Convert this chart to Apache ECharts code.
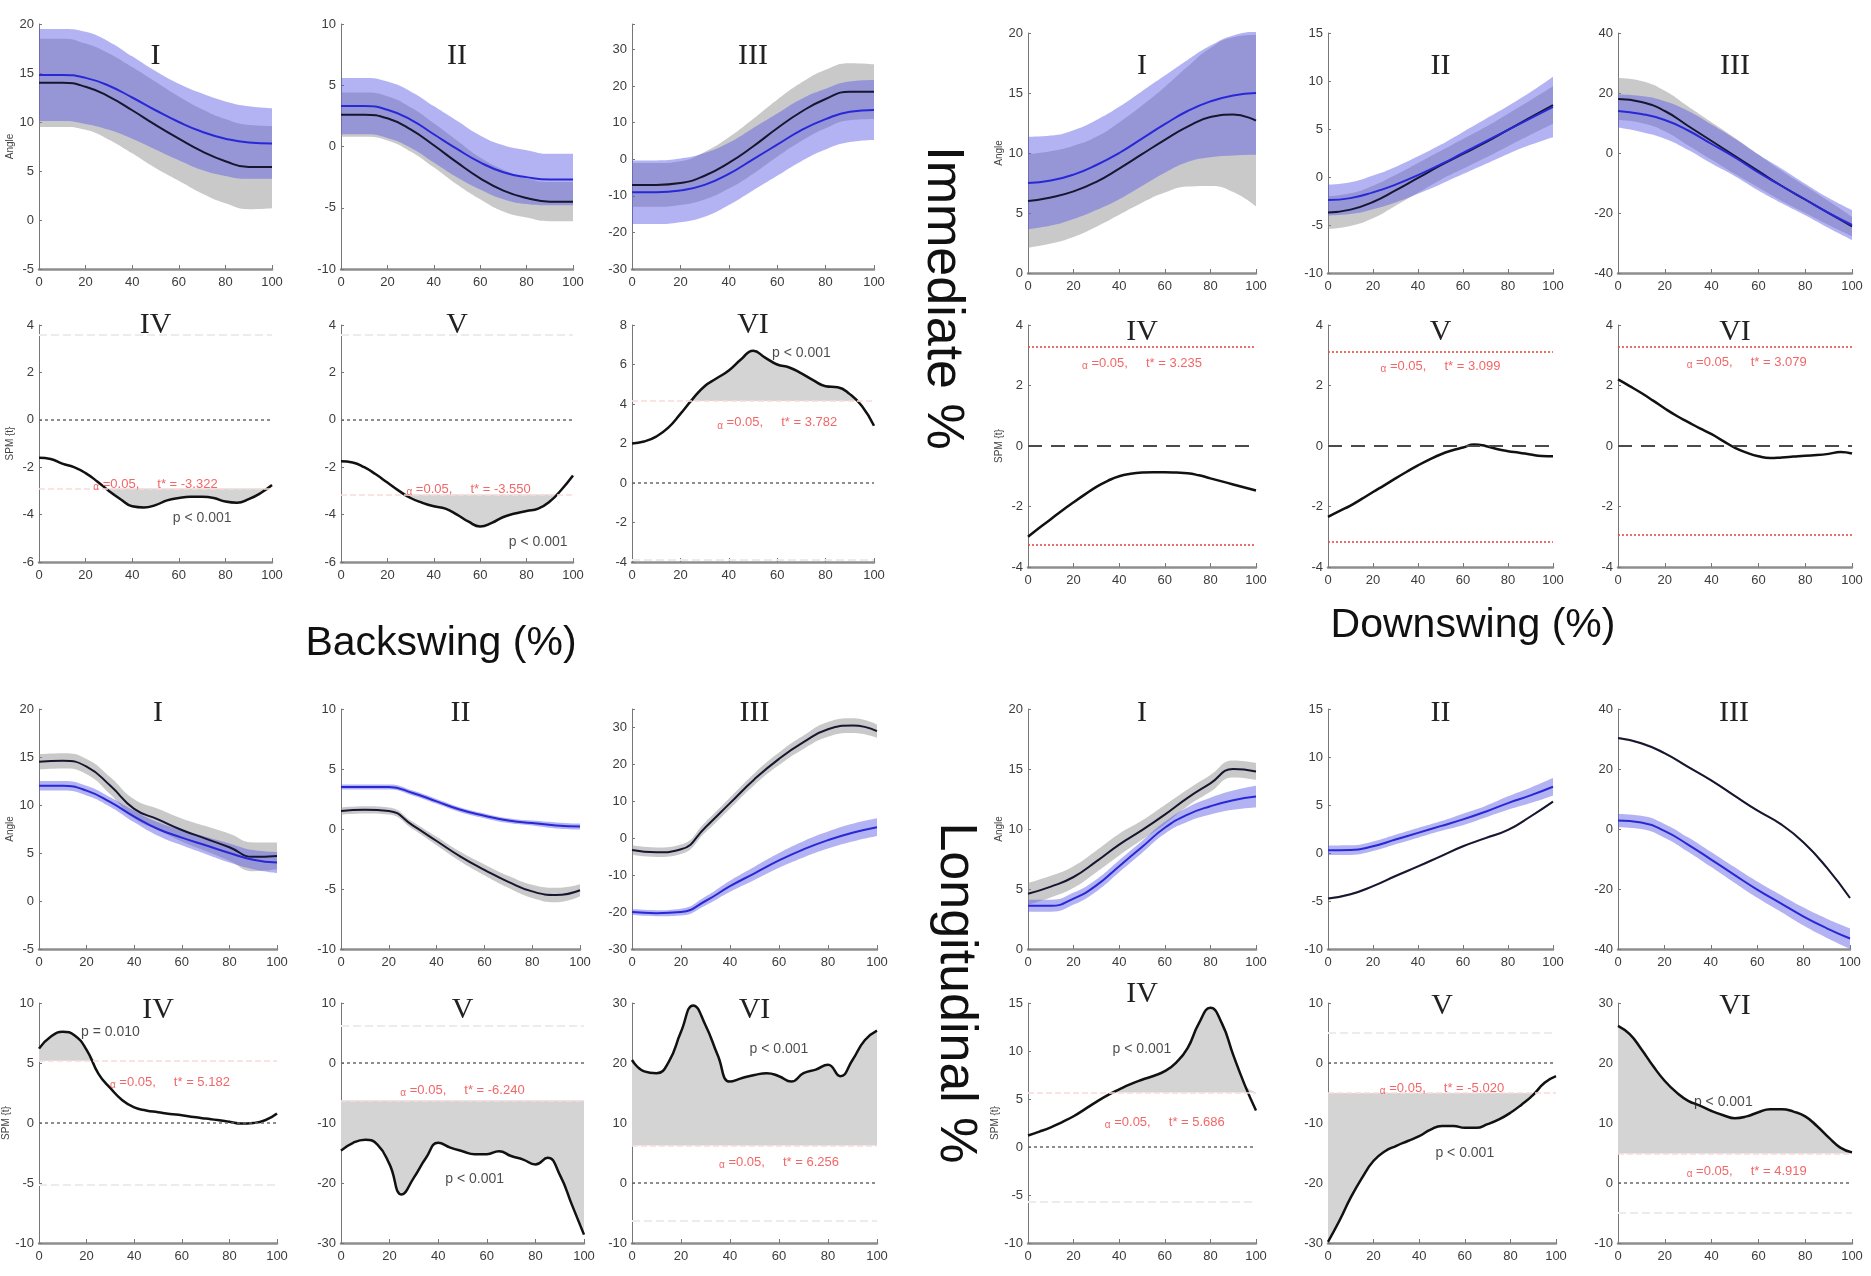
<!DOCTYPE html>
<html>
<head>
<meta charset="utf-8">
<script src="https://cdn.jsdelivr.net/npm/echarts@6.0.0/dist/echarts.min.js"></script>
<style>
  html, body { margin: 0; background: #fff; }
  #chart { width: 1871px; height: 1276px; }
</style>
</head>
<body>
<div id="chart"></div>
<script>
// ---------- sample positions (% of swing) ----------
const xsA = [0, 10, 20, 30, 40, 50, 60, 70, 80, 90, 100];
const xsS = [0, 5, 10, 15, 20, 25, 30, 35, 40, 45, 50, 55, 60, 65, 70, 75, 80, 85, 90, 95, 100];

// ---------- Immediate, backswing (angles: mean / sd) ----------
const imBackI_black   = [14, 14, 13.6, 12.6, 11.2, 9.7, 8.3, 7, 6, 5.4, 5.4];
const imBackI_blackSd = [4.5, 4.5, 4.4, 4.4, 4.4, 4.4, 4.3, 4.3, 4.3, 4.3, 4.2];
const imBackI_blue    = [14.8, 14.8, 14.5, 13.7, 12.5, 11.2, 10, 9, 8.3, 7.9, 7.8];
const imBackI_blueSd  = [4.7, 4.7, 4.7, 4.5, 4.2, 4.0, 3.9, 3.9, 3.8, 3.7, 3.6];

const imBackII_black   = [2.6, 2.6, 2.3, 1.4, 0.1, -1.3, -2.6, -3.6, -4.2, -4.5, -4.5];
const imBackII_blackSd = [1.8, 1.8, 1.8, 1.8, 1.8, 1.8, 1.7, 1.7, 1.6, 1.6, 1.6];
const imBackII_blue    = [3.3, 3.3, 3.0, 2.2, 1.0, -0.2, -1.3, -2.1, -2.5, -2.7, -2.7];
const imBackII_blueSd  = [2.3, 2.3, 2.3, 2.3, 2.3, 2.3, 2.2, 2.2, 2.2, 2.1, 2.1];

const imBackIII_black   = [-7, -7, -6.5, -4.5, -1, 3.5, 8.5, 13, 16.5, 18.5, 18.5];
const imBackIII_blackSd = [6, 6, 6, 6.5, 7, 7.5, 7.8, 8, 8, 7.8, 7.5];
const imBackIII_blue    = [-9, -9, -8.5, -7, -4, 0, 4, 8, 11, 13, 13.5];
const imBackIII_blueSd  = [8.7, 8.7, 8.7, 8.7, 8.5, 8.5, 8.5, 8.5, 8.3, 8.3, 8.2];

// ---------- Immediate, backswing (SPM t) ----------
const imBackIV_spm = [-1.6, -1.65, -1.85, -2.0, -2.25, -2.6, -3.0, -3.35, -3.65, -3.7, -3.6, -3.4, -3.3, -3.25, -3.25, -3.3, -3.45, -3.5, -3.35, -3.1, -2.75];
const imBackV_spm  = [-1.75, -1.8, -2.0, -2.3, -2.65, -3.0, -3.3, -3.5, -3.65, -3.75, -4.0, -4.3, -4.5, -4.35, -4.1, -3.95, -3.85, -3.75, -3.45, -2.95, -2.35];
const imBackVI_spm = [2.0, 2.1, 2.35, 2.8, 3.5, 4.25, 4.9, 5.3, 5.7, 6.25, 6.7, 6.35, 6.0, 5.85, 5.55, 5.2, 4.9, 4.85, 4.5, 3.9, 2.9];
const imBack_thr   = [-2.9, -3.15, 4.15];
const imBack_opp   = [3.6, 3.6, -3.9];
const imBack_tstar = ['-3.322', '-3.550', '3.782'];

// ---------- Immediate, downswing ----------
const imDownI_black   = [6.0, 6.3, 6.8, 7.6, 8.7, 9.9, 11.1, 12.2, 13.0, 13.2, 12.7];
const imDownI_blackSd = [3.9, 3.85, 3.8, 3.75, 3.85, 4.05, 4.4, 5, 5.75, 6.45, 7.15];
const imDownI_blue    = [7.5, 7.7, 8.2, 9.0, 10.0, 11.2, 12.4, 13.5, 14.3, 14.8, 15.0];
const imDownI_blueSd  = [3.85, 3.75, 3.7, 3.75, 3.85, 3.95, 4.05, 4.25, 4.65, 5.0, 5.15];

const imDownII_black   = [-3.7, -3.4, -2.6, -1.4, -0.1, 1.2, 2.4, 3.6, 4.9, 6.2, 7.5];
const imDownII_blackSd = [1.7, 1.7, 1.7, 1.6, 1.55, 1.5, 1.55, 1.6, 1.7, 1.8, 1.95];
const imDownII_blue    = [-2.4, -2.2, -1.6, -0.8, 0.2, 1.3, 2.5, 3.7, 4.9, 6.1, 7.3];
const imDownII_blueSd  = [1.6, 1.65, 1.75, 1.85, 1.95, 2.05, 2.2, 2.35, 2.5, 2.75, 3.15];

const imDownIII_black   = [18, 17, 14, 9, 4, -1, -6, -11, -15.5, -20, -24.5];
const imDownIII_blackSd = [7, 7, 6.75, 6.5, 6.25, 6, 5.5, 5, 4.5, 4, 3.25];
const imDownIII_blue    = [14, 13, 11, 7.5, 3, -1.5, -6.5, -11, -15.5, -20, -24];
const imDownIII_blueSd  = [5.5, 6, 6.25, 6.5, 6.5, 6.25, 6, 5.75, 5.25, 5, 5];

const imDownIV_spm = [-3.0, -2.7, -2.42, -2.13, -1.86, -1.6, -1.35, -1.15, -1.0, -0.92, -0.88, -0.87, -0.87, -0.88, -0.9, -0.97, -1.07, -1.17, -1.27, -1.37, -1.47];
const imDownV_spm  = [-2.34, -2.15, -1.97, -1.75, -1.52, -1.3, -1.07, -0.85, -0.64, -0.45, -0.28, -0.15, -0.05, 0.05, 0.0, -0.1, -0.17, -0.22, -0.28, -0.33, -0.34];
const imDownVI_spm = [2.2, 1.98, 1.75, 1.5, 1.24, 1.0, 0.79, 0.58, 0.39, 0.16, -0.06, -0.22, -0.34, -0.4, -0.38, -0.35, -0.32, -0.3, -0.26, -0.2, -0.25];
const imDown_thrUp = [3.29, 3.13, 3.27];
const imDown_thrLo = [-3.25, -3.18, -2.93];
const imDown_tstar = ['3.235', '3.099', '3.079'];

// ---------- Longitudinal, backswing ----------
const loBackI_black   = [14.5, 14.6, 14.0, 12.0, 9.6, 8.5, 7.4, 6.5, 5.6, 4.6, 4.7];
const loBackI_blackSd = [0.8, 0.8, 0.8, 0.9, 1.0, 1.1, 1.2, 1.3, 1.4, 1.5, 1.4];
const loBackI_blue    = [12.0, 12.0, 11.5, 10.3, 8.8, 7.5, 6.6, 5.8, 5.0, 4.3, 4.0];
const loBackI_blueSd  = [0.5, 0.5, 0.5, 0.5, 0.6, 0.7, 0.8, 0.9, 1.0, 1.0, 1.1];

const loBackII_black   = [1.5, 1.6, 1.5, 0.3, -1.0, -2.3, -3.4, -4.4, -5.2, -5.5, -5.1];
const loBackII_blackSd = [0.3, 0.3, 0.3, 0.3, 0.35, 0.4, 0.45, 0.5, 0.55, 0.6, 0.5];
const loBackII_blue    = [3.5, 3.5, 3.5, 3.0, 2.3, 1.6, 1.1, 0.7, 0.5, 0.3, 0.2];
const loBackII_blueSd  = [0.2, 0.2, 0.2, 0.2, 0.2, 0.2, 0.2, 0.2, 0.2, 0.25, 0.25];

const loBackIII_black   = [-3.2, -3.8, -3.0, 3, 9.5, 16, 21.5, 26, 29.5, 30.5, 29];
const loBackIII_blackSd = [1.3, 1.3, 1.3, 1.4, 1.5, 1.6, 1.7, 1.8, 2.0, 2.0, 1.8];
const loBackIII_blue    = [-20, -20.3, -20, -17, -13, -9.5, -6, -3, -0.5, 1.5, 3];
const loBackIII_blueSd  = [0.8, 0.8, 0.9, 1.2, 1.5, 1.8, 2.0, 2.2, 2.3, 2.4, 2.4];

const loBackIV_spm = [6.2, 7.2, 7.6, 7.3, 6.1, 4.1, 2.9, 1.9, 1.3, 1.05, 0.9, 0.75, 0.65, 0.5, 0.37, 0.25, 0.1, -0.05, 0, 0.23, 0.8];
const loBackV_spm  = [-14.6, -13.3, -12.8, -13.6, -16.9, -21.9, -19.1, -15.8, -13.3, -14.1, -14.7, -15.2, -15.2, -14.7, -15.5, -16.1, -16.9, -15.8, -18.6, -23.6, -28.6];
const loBackVI_spm = [20.5, 18.6, 18.3, 20.2, 25.2, 29.6, 26.3, 21.3, 16.9, 17.5, 18, 18.3, 17.8, 16.9, 18.3, 18.9, 19.7, 17.8, 20.5, 23.8, 25.4];
const loBack_thr   = [5.182, -6.240, 6.256];
const loBack_tstar = ['5.182', '-6.240', '6.256'];
const loBack_p     = ['p = 0.010', 'p < 0.001', 'p < 0.001'];

// ---------- Longitudinal, downswing ----------
const loDownI_black   = [4.6, 5.2, 6.0, 7.3, 8.7, 9.9, 11.2, 12.6, 13.8, 15.0, 14.8];
const loDownI_blackSd = [0.9, 0.9, 0.9, 0.9, 0.9, 0.8, 0.8, 0.7, 0.7, 0.7, 0.7];
const loDownI_blue    = [3.6, 3.6, 4.2, 5.3, 6.9, 8.5, 10.1, 11.2, 11.9, 12.4, 12.7];
const loDownI_blueSd  = [0.5, 0.5, 0.5, 0.5, 0.5, 0.5, 0.5, 0.6, 0.7, 0.8, 0.9];

const loDownII_black   = [-4.75, -4.3, -3.45, -2.4, -1.4, -0.35, 0.7, 1.55, 2.4, 3.8, 5.35];
const loDownII_blackSd = [0.12, 0.12, 0.12, 0.12, 0.12, 0.12, 0.12, 0.12, 0.12, 0.12, 0.12];
const loDownII_blue    = [0.28, 0.3, 0.7, 1.4, 2.1, 2.8, 3.5, 4.3, 5.2, 6.0, 6.9];
const loDownII_blueSd  = [0.5, 0.5, 0.5, 0.5, 0.5, 0.5, 0.6, 0.6, 0.7, 0.8, 0.9];

const loDownIII_black   = [30.3, 28.6, 25.3, 20.8, 16.3, 11.2, 6.2, 1.7, -4.5, -12.9, -23];
const loDownIII_blackSd = [0.4, 0.4, 0.4, 0.4, 0.4, 0.4, 0.4, 0.4, 0.4, 0.4, 0.4];
const loDownIII_blue    = [2.8, 2.2, -0.6, -5.1, -10.1, -15.2, -20.2, -24.7, -29.2, -33.1, -36.5];
const loDownIII_blueSd  = [2.2, 2.2, 2.3, 2.4, 2.5, 2.6, 2.7, 2.8, 3.0, 3.2, 3.4];

const loDownIV_spm = [1.2, 1.6, 2.05, 2.6, 3.2, 3.95, 4.7, 5.4, 6.0, 6.55, 7.0, 7.4, 7.9, 8.8, 10.3, 12.9, 14.5, 12.9, 9.6, 6.5, 3.8];
const loDownV_spm  = [-29.8, -26.3, -22.4, -19.1, -16.3, -14.7, -13.8, -13, -12.2, -11.1, -10.5, -10.5, -10.8, -10.8, -10.2, -9.4, -8.3, -6.9, -5.3, -3.3, -2.2];
const loDownVI_spm = [26.2, 24.8, 22.3, 19.5, 17, 15.1, 13.7, 12.9, 12, 11.3, 10.8, 11.1, 11.8, 12.3, 12.3, 11.9, 11.1, 9.5, 7.6, 5.9, 5.1];
const loDown_thr   = [5.686, -5.020, 4.919];
const loDown_tstar = ['5.686', '-5.020', '4.919'];

// ---------- layout (pixels) ----------
const cols = [[39, 233], [341, 232], [632, 242], [1028, 228], [1328, 225], [1618, 234]];
const box = (c, top, h) => [cols[c][0], top, cols[c][1], h];

const plots = [
  // Immediate / backswing
  { kind: 'angle', box: box(0, 24, 245), ty: 56, title: 'I', y: [-5, 20, 5], yname: 'Angle', d: [imBackI_black, imBackI_blackSd, imBackI_blue, imBackI_blueSd] },
  { kind: 'angle', box: box(1, 24, 245), ty: 56, title: 'II', y: [-10, 10, 5], d: [imBackII_black, imBackII_blackSd, imBackII_blue, imBackII_blueSd] },
  { kind: 'angle', box: box(2, 24, 245), ty: 56, title: 'III', y: [-30, 37, 10], d: [imBackIII_black, imBackIII_blackSd, imBackIII_blue, imBackIII_blueSd] },
  { kind: 'spm', box: box(0, 325, 237), ty: 325, title: 'IV', y: [-6, 4, 2], yname: 'SPM {t}', curve: imBackIV_spm, thr: imBack_thr[0], opp: imBack_opp[0], tstar: imBack_tstar[0], red: [51, -2.72], p: [72, -4.15, 'p < 0.001'] },
  { kind: 'spm', box: box(1, 325, 237), ty: 325, title: 'V', y: [-6, 4, 2], curve: imBackV_spm, thr: imBack_thr[1], opp: imBack_opp[1], tstar: imBack_tstar[1], red: [54, -2.95], p: [84, -5.15, 'p < 0.001'] },
  { kind: 'spm', box: box(2, 325, 237), ty: 325, title: 'VI', y: [-4, 8, 2], curve: imBackVI_spm, thr: imBack_thr[2], opp: imBack_opp[2], tstar: imBack_tstar[2], red: [58, 3.05], p: [70, 6.55, 'p < 0.001'] },
  // Immediate / downswing
  { kind: 'angle', box: box(3, 33, 240), ty: 66, title: 'I', y: [0, 20, 5], yname: 'Angle', d: [imDownI_black, imDownI_blackSd, imDownI_blue, imDownI_blueSd] },
  { kind: 'angle', box: box(4, 33, 240), ty: 66, title: 'II', y: [-10, 15, 5], d: [imDownII_black, imDownII_blackSd, imDownII_blue, imDownII_blueSd] },
  { kind: 'angle', box: box(5, 33, 240), ty: 66, title: 'III', y: [-40, 40, 20], d: [imDownIII_black, imDownIII_blackSd, imDownIII_blue, imDownIII_blueSd] },
  { kind: 'spm', box: box(3, 325, 242), ty: 332, title: 'IV', y: [-4, 4, 2], yname: 'SPM {t}', curve: imDownIV_spm, thrUp: imDown_thrUp[0], thrLo: imDown_thrLo[0], tstar: imDown_tstar[0], red: [52, 2.74] },
  { kind: 'spm', box: box(4, 325, 242), ty: 332, title: 'V', y: [-4, 4, 2], curve: imDownV_spm, thrUp: imDown_thrUp[1], thrLo: imDown_thrLo[1], tstar: imDown_tstar[1], red: [51, 2.62] },
  { kind: 'spm', box: box(5, 325, 242), ty: 332, title: 'VI', y: [-4, 4, 2], curve: imDownVI_spm, thrUp: imDown_thrUp[2], thrLo: imDown_thrLo[2], tstar: imDown_tstar[2], red: [53, 2.76] },
  // Longitudinal / backswing
  { kind: 'angle', box: [39, 709, 238, 240], ty: 713, title: 'I', y: [-5, 20, 5], yname: 'Angle', d: [loBackI_black, loBackI_blackSd, loBackI_blue, loBackI_blueSd] },
  { kind: 'angle', box: [341, 709, 239, 240], ty: 713, title: 'II', y: [-10, 10, 5], d: [loBackII_black, loBackII_blackSd, loBackII_blue, loBackII_blueSd] },
  { kind: 'angle', box: [632, 709, 245, 240], ty: 713, title: 'III', y: [-30, 35, 10], d: [loBackIII_black, loBackIII_blackSd, loBackIII_blue, loBackIII_blueSd] },
  { kind: 'spm', box: [39, 1003, 238, 240], ty: 1010, title: 'IV', y: [-10, 10, 5], yname: 'SPM {t}', curve: loBackIV_spm, thr: loBack_thr[0], tstar: loBack_tstar[0], red: [53, 3.4], p: [30, 7.6, loBack_p[0]] },
  { kind: 'spm', box: [341, 1003, 243, 240], ty: 1010, title: 'V', y: [-30, 10, 10], curve: loBackV_spm, thr: loBack_thr[1], tstar: loBack_tstar[1], red: [52, -4.6], p: [54, -19.3, loBack_p[1]] },
  { kind: 'spm', box: [632, 1003, 245, 240], ty: 1010, title: 'VI', y: [-10, 30, 10], curve: loBackVI_spm, thr: loBack_thr[2], tstar: loBack_tstar[2], red: [58, 3.5], p: [62, 22.3, loBack_p[2]] },
  // Longitudinal / downswing
  { kind: 'angle', box: [1028, 709, 228, 240], ty: 713, title: 'I', y: [0, 20, 5], yname: 'Angle', d: [loDownI_black, loDownI_blackSd, loDownI_blue, loDownI_blueSd] },
  { kind: 'angle', box: [1328, 709, 225, 240], ty: 713, title: 'II', y: [-10, 15, 5], d: [loDownII_black, loDownII_blackSd, loDownII_blue, loDownII_blueSd] },
  { kind: 'angle', box: [1618, 709, 232, 240], ty: 713, title: 'III', y: [-40, 40, 20], d: [loDownIII_black, loDownIII_blackSd, loDownIII_blue, loDownIII_blueSd] },
  { kind: 'spm', box: [1028, 1003, 228, 240], ty: 994, title: 'IV', y: [-10, 15, 5], yname: 'SPM {t}', curve: loDownIV_spm, thr: loDown_thr[0], tstar: loDown_tstar[0], red: [60, 2.6], p: [50, 10.2, 'p < 0.001'] },
  { kind: 'spm', box: [1328, 1003, 228, 240], ty: 1006, title: 'V', y: [-30, 10, 10], curve: loDownV_spm, thr: loDown_thr[1], tstar: loDown_tstar[1], red: [52, -4.2], p: [58, -15.0, 'p < 0.001'] },
  { kind: 'spm', box: [1618, 1003, 234, 240], ty: 1006, title: 'VI', y: [-10, 30, 10], curve: loDownVI_spm, thr: loDown_thr[2], tstar: loDown_tstar[2], red: [56, 1.9], p: [47, 13.4, 'p < 0.001'] }
];

// ---------- build chart ----------
const FONT = '"Liberation Sans Narrow", "Liberation Sans", Arial, sans-serif';
const chart = echarts.init(document.getElementById('chart'));
const grid = [], xAxis = [], yAxis = [], series = [], graphic = [];

function lineBase(i) {
  return { type: 'line', xAxisIndex: i, yAxisIndex: i, smooth: true, symbol: 'none', silent: true, animation: false };
}

function addAngle(p, i) {
  const [bm, bs, um, us] = p.d;
  const band = (m, s, color, op, id) => {
    series.push({ ...lineBase(i), stack: id, stackStrategy: 'all', data: m.map((v, k) => v - s[k]), lineStyle: { opacity: 0 } });
    series.push({ ...lineBase(i), stack: id, stackStrategy: 'all', data: s.map(v => 2 * v), lineStyle: { opacity: 0 }, areaStyle: { color: color, opacity: op } });
  };
  band(bm, bs, '#8a8a8a', 0.46, 'g' + i);
  band(um, us, '#5a5ae6', 0.46, 'b' + i);
  series.push({ ...lineBase(i), data: bm.slice(), lineStyle: { color: '#161630', width: 2 } });
  series.push({ ...lineBase(i), data: um.slice(), lineStyle: { color: '#2828d6', width: 2 } });
}

// text notes placed in data coordinates (x in % of swing, converted to category index)
function note(i, x, y, text, color, size, rich) {
  series.push({
    type: 'scatter', xAxisIndex: i, yAxisIndex: i, symbolSize: 1, silent: true, animation: false, z: 5,
    itemStyle: { color: 'transparent' }, data: [[x / 5, y]],
    label: { show: true, position: 'inside', formatter: text, color: color, fontSize: size, fontFamily: FONT, rich: rich || {} }
  });
}

function addSpm(p, i) {
  const c = p.curve;
  const isImm = p.thrUp !== undefined;
  const lines = [];
  if (isImm) {
    lines.push({ yAxis: 0, lineStyle: { color: '#4a4a4a', type: [14, 9], width: 2 } });
    lines.push({ yAxis: p.thrUp, lineStyle: { color: '#e84a46', type: [2, 2], width: 1.6 } });
    lines.push({ yAxis: p.thrLo, lineStyle: { color: '#e84a46', type: [2, 2], width: 1.6 } });
  } else {
    const down = p.thr < 0;
    const opp = p.opp !== undefined ? p.opp : -p.thr;
    series.push({ ...lineBase(i), stack: 's' + i, stackStrategy: 'all', data: c.map(() => p.thr), lineStyle: { opacity: 0 } });
    series.push({ ...lineBase(i), stack: 's' + i, stackStrategy: 'all',
      data: c.map(v => (down ? Math.min(0, v - p.thr) : Math.max(0, v - p.thr))),
      lineStyle: { opacity: 0 }, areaStyle: { color: '#d4d4d4', opacity: 1 } });
    lines.push({ yAxis: 0, lineStyle: { color: '#6a6a6a', type: [3, 3], width: 1.5 } });
    lines.push({ yAxis: p.thr, lineStyle: { color: '#f8dada', width: 1.5 } });
    lines.push({ yAxis: opp, lineStyle: { color: '#ececec', width: 2 } });
  }
  series.push({ ...lineBase(i), data: c.slice(), lineStyle: { color: '#111', width: 2.5 },
    markLine: { silent: true, symbol: 'none', animation: false, label: { show: false }, data: lines } });
  note(i, p.red[0], p.red[1], '{a|α} =0.05,     t* = ' + p.tstar, '#ee4040', 13,
    { a: { fontSize: 10, color: '#ee4040', padding: [6, 0, 0, 0] } });
  if (p.p) note(i, p.p[0], p.p[1], p.p[2], '#1e1e1e', 14);
}

plots.forEach((p, i) => {
  const [l, t, w, h] = p.box;
  const [ymin, ymax, step] = p.y;
  const xs = p.kind === 'angle' ? xsA : xsS;
  const every = p.kind === 'angle' ? 1 : 3;
  grid.push({ left: l, top: t, width: w, height: h });
  xAxis.push({
    type: 'category', gridIndex: i, data: xs.map(String), boundaryGap: false,
    axisLine: { onZero: false, lineStyle: { color: '#8e8e8e', width: 2.5 } },
    axisTick: { inside: true, length: 4, interval: every, lineStyle: { color: '#777' } },
    axisLabel: { color: '#3c3c3c', fontSize: 13, fontFamily: FONT, margin: 7, interval: every },
    splitLine: { show: false }
  });
  yAxis.push({
    type: 'value', gridIndex: i, min: ymin, max: ymax, interval: step,
    axisLine: { show: true, onZero: false, lineStyle: { color: '#777', width: 1 } },
    axisTick: { show: true, inside: true, length: 3, lineStyle: { color: '#777' } },
    axisLabel: { color: '#3c3c3c', fontSize: 13, fontFamily: FONT, margin: 5,
      formatter: v => (Math.abs(v % step) < 1e-9 ? String(v) : '') },
    splitLine: { show: false },
    name: p.yname || '', nameLocation: 'middle', nameGap: 24, nameRotate: 90,
    nameTextStyle: { fontSize: 10, color: '#444', fontFamily: FONT }
  });
  graphic.push({ type: 'text', x: l + w / 2, y: p.ty, silent: true, z: 100,
    style: { text: p.title, font: '30px "Liberation Serif", "Times New Roman", serif', fill: '#222', align: 'center', verticalAlign: 'middle' } });
  if (p.kind === 'angle') addAngle(p, i); else addSpm(p, i);
});

const bigFont = '"Liberation Sans", Arial, sans-serif';
graphic.push(
  { type: 'text', x: 441, y: 644, silent: true, z: 100, style: { text: 'Backswing (%)', font: '41px ' + bigFont, fill: '#111', align: 'center', verticalAlign: 'middle' } },
  { type: 'text', x: 1473, y: 626, silent: true, z: 100, style: { text: 'Downswing (%)', font: '41px ' + bigFont, fill: '#111', align: 'center', verticalAlign: 'middle' } },
  { type: 'text', x: 942, y: 298, rotation: -Math.PI / 2, silent: true, z: 100, style: { text: 'Immediate %', font: '52px ' + bigFont, fill: '#111', align: 'center', verticalAlign: 'middle' } },
  { type: 'text', x: 955, y: 993, rotation: -Math.PI / 2, silent: true, z: 100, style: { text: 'Longitudinal %', font: '52px ' + bigFont, fill: '#111', align: 'center', verticalAlign: 'middle' } }
);

chart.setOption({
  animation: false,
  backgroundColor: '#fff',
  grid: grid,
  xAxis: xAxis,
  yAxis: yAxis,
  series: series,
  graphic: graphic
});
window.addEventListener('resize', () => chart.resize());
</script>
</body>
</html>
